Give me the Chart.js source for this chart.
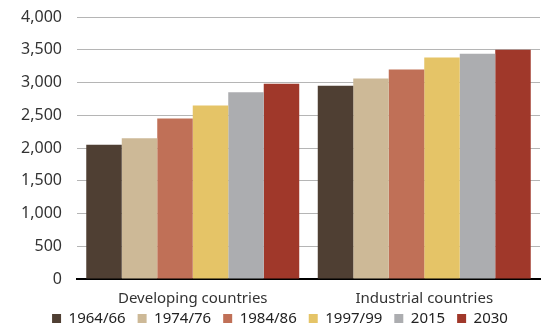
<!DOCTYPE html>
<html>
<head>
<meta charset="utf-8">
<script src="https://cdn.jsdelivr.net/npm/chart.js@4/dist/chart.umd.min.js"></script>
<style>
  html, body { margin: 0; padding: 0; background: #fff; }
  #wrap { width: 542px; height: 326px; }
</style>
</head>
<body>
<div id="wrap"><canvas id="chart" width="542" height="326"></canvas></div>
<script>
// data
const categories = ['Developing countries', 'Industrial countries'];
const periods = ['1964/66', '1974/76', '1984/86', '1997/99', '2015', '2030'];
const v1964 = [2050, 2950];
const v1974 = [2150, 3060];
const v1984 = [2450, 3200];
const v1997 = [2650, 3380];
const v2015 = [2850, 3440];
const v2030 = [2980, 3500];
const yTicks = [0, 500, 1000, 1500, 2000, 2500, 3000, 3500, 4000];

const colors = ['#4f3f33', '#cdb997', '#c07057', '#e5c467', '#acadb0', '#a0382a'];
const series = [v1964, v1974, v1984, v1997, v2015, v2030];

const font = '"Noto Sans", "DejaVu Sans", sans-serif';
const padLeft = 20;

// legend starts a bit higher than the layout would put it
const shiftLegend = {
  id: 'shiftLegend',
  afterLayout(chart) {
    chart.legend.top -= 9;
    chart.legend.height += 9;
  }
};

new Chart(document.getElementById('chart'), {
  type: 'bar',
  data: {
    labels: categories,
    datasets: series.map((d, i) => ({
      label: periods[i],
      data: d,
      backgroundColor: colors[i],
      borderWidth: 0,
      categoryPercentage: 0.92,
      barPercentage: 1.0
    }))
  },
  plugins: [shiftLegend],
  options: {
    responsive: false,
    animation: false,
    layout: { padding: { left: padLeft, right: 2, top: 17, bottom: 0 } },
    plugins: {
      tooltip: { enabled: false },
      legend: {
        position: 'bottom',
        maxHeight: 18,
        labels: {
          boxWidth: 9,
          boxHeight: 9,
          padding: 12,
          color: '#222',
          font: { family: font, size: 15 }
        }
      }
    },
    scales: {
      x: {
        grid: { display: false },
        border: { display: true, color: '#000', width: 2 },
        ticks: { color: '#333', font: { family: font, size: 15 }, padding: 3 },
        afterFit: axis => { axis.height = 29; }
      },
      y: {
        min: 0,
        max: 4000,
        afterBuildTicks: axis => { axis.ticks = yTicks.map(v => ({ value: v })); },
        afterFit: axis => {
          axis.width = 77 - padLeft;
          axis.paddingTop = 0;
          axis.paddingBottom = 0;
        },
        grid: { color: '#b5b5b5', lineWidth: 1, drawTicks: false },
        border: { display: false },
        ticks: {
          color: '#333',
          font: { family: font, size: 16 },
          padding: 15,
          callback: v => v.toLocaleString('en-US')
        }
      }
    }
  }
});
</script>
</body>
</html>
